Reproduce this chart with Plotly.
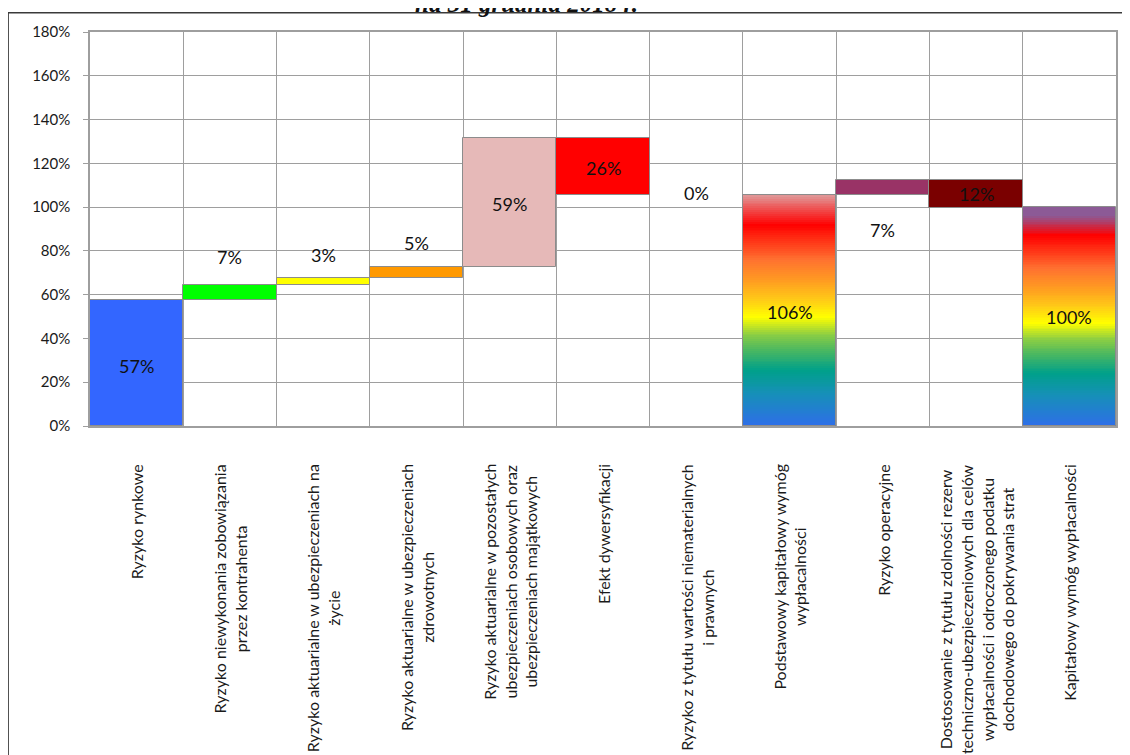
import plotly.graph_objects as go
from plotly.colors import sample_colorscale

# waterfall: kapitałowy wymóg wypłacalności na 31.12.2018
categories = [
    "Ryzyko rynkowe",
    "Ryzyko niewykonania zobowiązania<br>przez kontrahenta",
    "Ryzyko aktuarialne w ubezpieczeniach na<br>życie",
    "Ryzyko aktuarialne w ubezpieczeniach<br>zdrowotnych",
    "Ryzyko aktuarialne w pozostałych<br>ubezpieczeniach osobowych oraz<br>ubezpieczeniach majątkowych",
    "Efekt dywersyfikacji",
    "Ryzyko z tytułu wartości niematerialnych<br>i prawnych",
    "Podstawowy kapitałowy wymóg<br>wypłacalności",
    "Ryzyko operacyjne",
    "Dostosowanie z tytułu zdolności rezerw<br>techniczno-ubezpieczeniowych dla celów<br>wypłacalności i odroczonego podatku<br>dochodowego do pokrywania strat",
    "Kapitałowy wymóg wypłacalności",
]
values = [57.4, 7.1, 3.2, 4.8, 59.1, -26.0, 0.0, 105.6, 6.6, -12.4, 100.0]
measures = ["relative"] * 7 + ["total", "relative", "relative", "total"]
bar_colors = ["#3366ff", "#00ff00", "#ffff00", "#ff9900", "#e6b9b8", "#ff0000",
              "#ffffff", "grad_pink", "#993366", "#7a0000", "grad_purple"]
y_ticks = [0, 20, 40, 60, 80, 100, 120, 140, 160, 180]
y_tick_text = ["%d%%" % t for t in y_ticks]

# label nudges in px (Excel put the small ones in odd places)
label_shift = [-3, 36, 26, 30, -1, -2, 2, -2, -42, 0, 0]

grad_base = [[0.0, "#2e6ee8"], [0.14, "#1690b8"], [0.24, "#00a08a"], [0.33, "#4cb860"],
             [0.40, "#92d040"], [0.47, "#ffff00"], [0.55, "#ffc818"], [0.62, "#ffa020"],
             [0.72, "#ff7030"], [0.87, "#ff0000"]]
gradients = {
    "grad_pink": grad_base + [[1.0, "#e09a9a"]],
    "grad_purple": grad_base + [[0.96, "#8c5a96"], [1.0, "#8c5a96"]],
}

grid = "#9e9e9e"
edge = "#8c8c8c"

# running sums -> bar extents
lows, highs = [], []
run = 0.0
for v, m in zip(values, measures):
    if m == "total":
        lows.append(0.0)
        highs.append(v)
        run = v
    else:
        lows.append(min(run, run + v))
        highs.append(max(run, run + v))
        run += v

fig = go.Figure()

plain = [i for i, c in enumerate(bar_colors) if not c.startswith("grad") and values[i] != 0]
fig.add_trace(go.Bar(
    x=plain, base=[lows[i] for i in plain], y=[highs[i] - lows[i] for i in plain],
    width=1, marker=dict(color=[bar_colors[i] for i in plain], line=dict(color=edge, width=1)),
    hoverinfo="skip"))

# gradient fill for the totals: thin slices sampled from a colorscale
n = 120
for i, c in enumerate(bar_colors):
    if not c.startswith("grad"):
        continue
    top = highs[i]
    step = top / n
    bases = [k * step for k in range(n)]
    heights = [min(b + step * 1.7, top) - b for b in bases]
    cols = sample_colorscale(gradients[c], [(k + 0.5) / n for k in range(n)])
    fig.add_trace(go.Bar(x=[i] * n, base=bases, y=heights, width=1,
                         marker=dict(color=cols, line=dict(width=0)), hoverinfo="skip"))
    fig.add_trace(go.Bar(x=[i], base=[0], y=[top], width=1,
                         marker=dict(color="rgba(0,0,0,0)", line=dict(color=edge, width=1)),
                         hoverinfo="skip"))

annotations = []
for i, v in enumerate(values):
    annotations.append(dict(
        x=i, y=(lows[i] + highs[i]) / 2, xref="x", yref="y", yshift=label_shift[i],
        text="%d%%" % abs(round(v)), showarrow=False,
        font=dict(family="Lato", size=18, color="#111111")))
for i, cat in enumerate(categories):
    annotations.append(dict(
        x=i, y=-0.0914, xref="x", yref="paper", xanchor="center", yanchor="top",
        text=cat, textangle=-90, align="center", showarrow=False,
        font=dict(family="Lato", size=16, color="#1a1a1a")))
# title sits half above the page edge in the source, keep its lower part visible
annotations.append(dict(
    x=0.4256, y=1.0723, xref="paper", yref="paper", xanchor="center", yanchor="middle",
    text="<b><i>na 31 grudnia 2018 r.</i></b>", showarrow=False,
    font=dict(family="Liberation Serif", size=25, color="#111111")))

# page body has an 8px margin, so the figure is 8px smaller than the window
fig.update_layout(
    width=1122, height=747, margin=dict(l=82, r=12, t=24, b=329),
    paper_bgcolor="white", plot_bgcolor="white", showlegend=False,
    barmode="overlay", bargap=0,
    annotations=annotations,
    shapes=[dict(type="path", xref="paper", yref="paper",
                 path="M -0.0798,-0.95 L -0.0798,1.049 L 1.05,1.049",
                 line=dict(color="#3a3a3a", width=1.5))],
)
fig.update_xaxes(range=[-0.5, 10.5], tick0=-0.5, dtick=1, showticklabels=False,
                 showgrid=True, gridcolor=grid, gridwidth=1, zeroline=False,
                 showline=True, mirror=True, linecolor=grid, linewidth=1.5, ticks="")
fig.update_yaxes(range=[0, 180], tickvals=y_ticks, ticktext=y_tick_text,
                 showgrid=True, gridcolor=grid, gridwidth=1, zeroline=False,
                 showline=True, mirror=True, linecolor=grid, linewidth=1.5,
                 ticks="outside", ticklen=5, tickcolor=grid, ticklabelstandoff=10,
                 tickfont=dict(family="Lato", size=15, color="#1a1a1a"))

fig.write_html("out.html")
